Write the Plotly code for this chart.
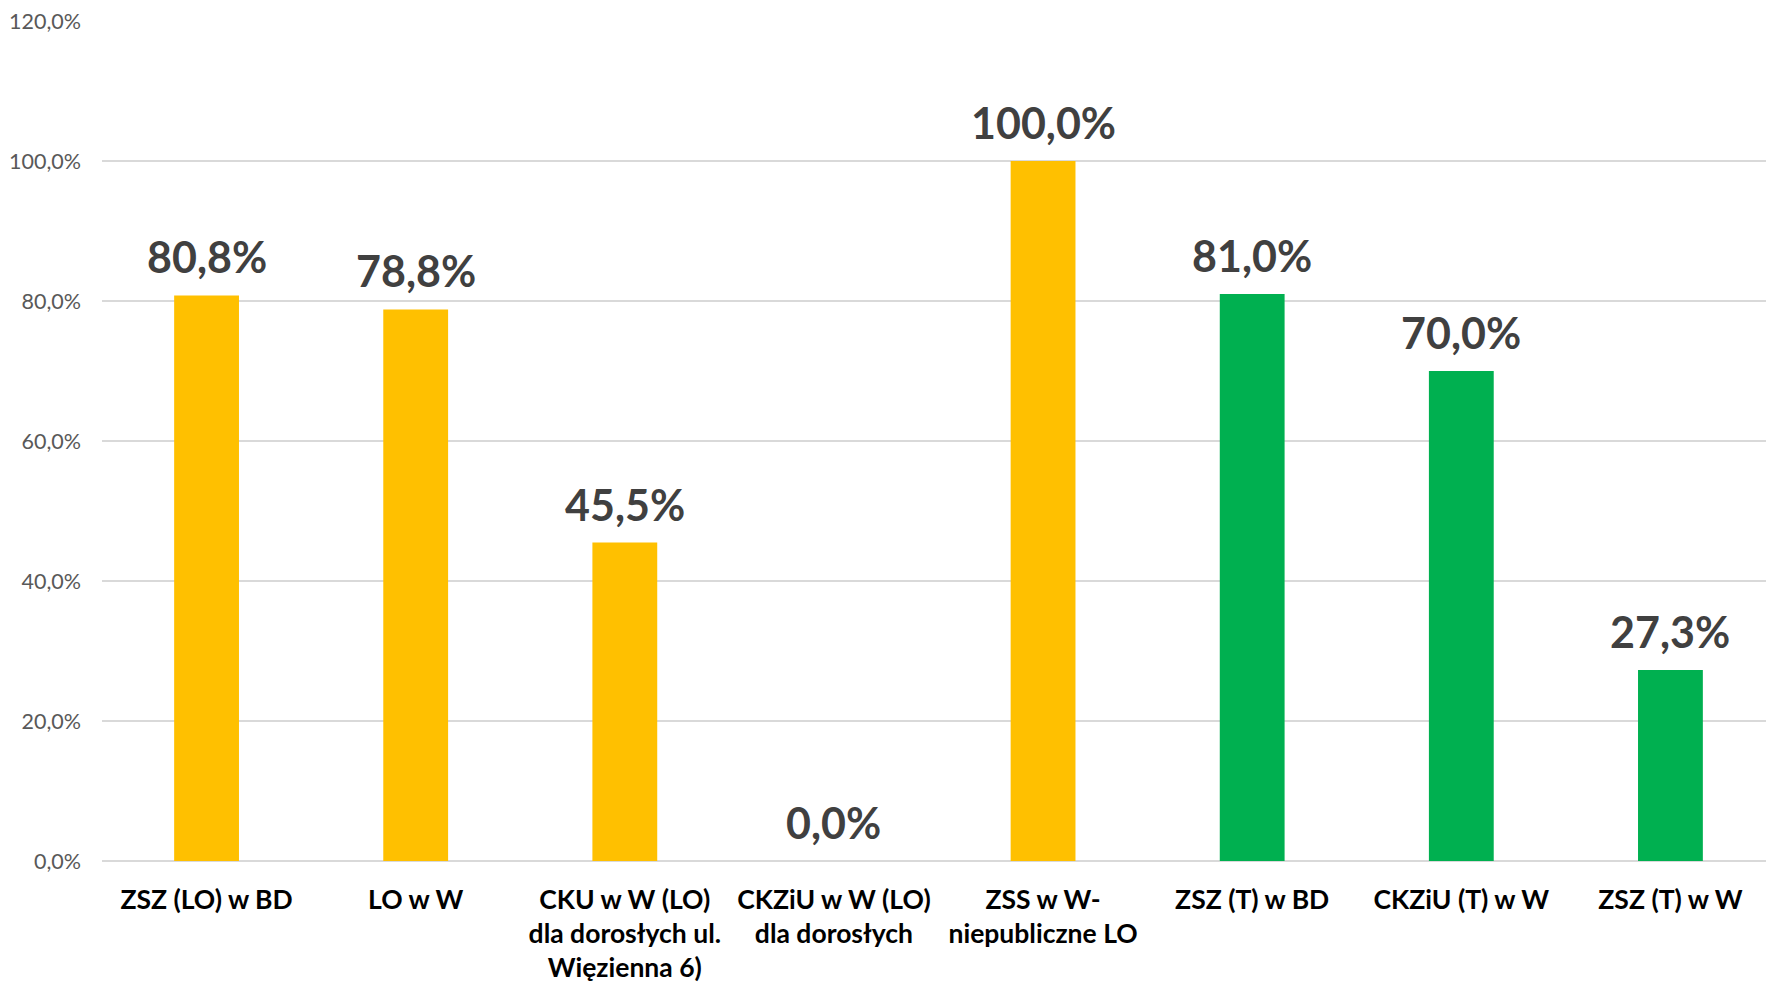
import plotly.graph_objects as go

categories = [
    'ZSZ (LO) w BD',
    'LO w W',
    'CKU w W (LO)<br>dla dorosłych ul.<br>Więzienna 6)',
    'CKZiU w W (LO)<br>dla dorosłych',
    'ZSS w W-<br>niepubliczne LO',
    'ZSZ (T) w BD',
    'CKZiU (T) w W',
    'ZSZ (T) w W',
]
values = [80.8, 78.8, 45.5, 0.0, 100.0, 81.0, 70.0, 27.3]
groups = ['LO', 'LO', 'LO', 'LO', 'LO', 'T', 'T', 'T']
y_ticks = [0, 20, 40, 60, 80, 100, 120]
y_tick_labels = ['0,0%', '20,0%', '40,0%', '60,0%', '80,0%', '100,0%', '120,0%']

COLORS = {'LO': '#FFC000', 'T': '#00B050'}
FONT = 'Lato, "Open Sans", sans-serif'

fig = go.Figure(go.Bar(
    x=categories,
    y=values,
    marker_color=[COLORS[g] for g in groups],
    marker_line_width=0,
    width=0.31,
    hoverinfo='skip',
))

# value labels above bars
for cat, val in zip(categories, values):
    fig.add_annotation(x=cat, y=val, text=f'{val:.1f}%'.replace('.', ','),
                       showarrow=False, yanchor='bottom', yshift=11,
                       font=dict(family=FONT, size=43, color='#404040', weight='bold'))

# plot area runs a little past the right edge of the window, as in the original
fig.update_layout(
    width=1775, height=986,
    margin=dict(l=102, r=0, t=21, b=125, autoexpand=False),
    paper_bgcolor='white',
    plot_bgcolor='white',
    showlegend=False,
    font=dict(family=FONT),
    xaxis=dict(
        showgrid=False, zeroline=False, showline=False,
        ticks='', ticklabelstandoff=20,
        tickfont=dict(family=FONT, size=26.5, color='#000000', weight='bold'),
    ),
    yaxis=dict(
        range=[0, 120],
        tickvals=y_ticks,
        ticktext=y_tick_labels,
        tickfont=dict(family=FONT, size=21.5, color='#595959'),
        ticklabelstandoff=20,
        showgrid=True, gridcolor='#D9D9D9', gridwidth=1.5,
        zeroline=True, zerolinecolor='#D9D9D9', zerolinewidth=2,
        showline=False,
    ),
)

# drop the default page margin so the figure fills the window
fig.write_html('out.html',
               config={'displayModeBar': False},
               post_script="document.body.style.margin='0';document.body.style.overflow='hidden';")
